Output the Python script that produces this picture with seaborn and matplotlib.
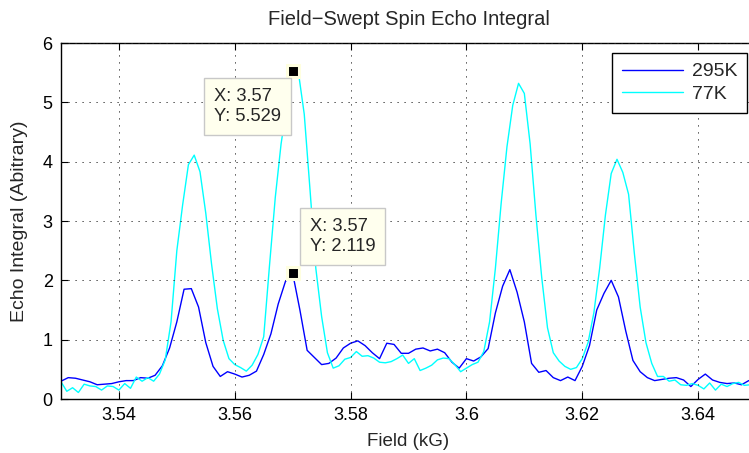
import numpy as np
import pandas as pd
import matplotlib
matplotlib.use("Agg")
import matplotlib.pyplot as plt
import seaborn as sns

# Field sweep grids (kG)
field_295 = np.round(np.arange(97) * 0.00125 + 3.53, 5)
field_77 = np.round(np.arange(121) * 0.001 + 3.53, 4)

# Echo integral, 295 K sweep
echo_295 = [
    0.30, 0.36, 0.35, 0.32, 0.29, 0.24, 0.25, 0.26, 0.29, 0.31,
    0.31, 0.36, 0.35, 0.40, 0.56, 0.86, 1.30, 1.85, 1.86, 1.55,
    0.95, 0.55, 0.38, 0.46, 0.42, 0.37, 0.40, 0.47, 0.75, 1.10,
    1.60, 1.98, 2.119, 1.50, 0.82, 0.70, 0.58, 0.60, 0.69, 0.86,
    0.94, 0.98, 0.90, 0.78, 0.68, 0.94, 0.92, 0.77, 0.77, 0.84,
    0.86, 0.81, 0.84, 0.78, 0.62, 0.52, 0.68, 0.64, 0.71, 0.85,
    1.45, 1.90, 2.18, 1.80, 1.30, 0.60, 0.45, 0.48, 0.36, 0.31,
    0.37, 0.31, 0.55, 0.90, 1.50, 1.78, 2.00, 1.72, 1.15, 0.65,
    0.46, 0.36, 0.31, 0.33, 0.35, 0.36, 0.32, 0.21, 0.33, 0.42,
    0.32, 0.28, 0.26, 0.27, 0.24, 0.31, 0.28,
]

# Echo integral, 77 K sweep
echo_77 = [
    0.29, 0.13, 0.19, 0.11, 0.25, 0.22, 0.21, 0.15, 0.22, 0.21,
    0.15, 0.26, 0.18, 0.37, 0.30, 0.36, 0.30, 0.42, 0.66, 1.30,
    2.50, 3.27, 3.95, 4.11, 3.83, 3.13, 2.27, 1.52, 0.99, 0.68,
    0.58, 0.53, 0.47, 0.57, 0.75, 1.05, 2.25, 3.40, 4.30, 4.95,
    5.529, 5.50, 4.80, 3.52, 2.20, 1.39, 0.78, 0.52, 0.56, 0.67,
    0.70, 0.80, 0.72, 0.73, 0.69, 0.62, 0.61, 0.63, 0.68, 0.74,
    0.60, 0.68, 0.48, 0.52, 0.57, 0.66, 0.69, 0.68, 0.58, 0.46,
    0.52, 0.58, 0.62, 0.80, 1.30, 2.20, 3.30, 4.25, 4.95, 5.32,
    5.15, 4.30, 3.10, 2.05, 1.20, 0.78, 0.64, 0.55, 0.50, 0.53,
    0.68, 0.95, 1.45, 2.20, 3.10, 3.80, 4.04, 3.82, 3.45, 2.45,
    1.55, 0.95, 0.60, 0.38, 0.38, 0.30, 0.32, 0.24, 0.23, 0.26,
    0.23, 0.17, 0.27, 0.15, 0.25, 0.21, 0.26, 0.28, 0.23, 0.24,
    0.22,
]

series_labels = ["295K", "77K"]
series_colors = ["#0000ff", "#00ffff"]

# Data cursor readouts: (field, echo integral)
tip_295 = (3.57, 2.119)
tip_77 = (3.57, 5.529)

x_ticks = [3.54, 3.56, 3.58, 3.60, 3.62, 3.64]
x_tick_labels = ["3.54", "3.56", "3.58", "3.6", "3.62", "3.64"]
y_ticks = [0, 1, 2, 3, 4, 5, 6]

df = pd.concat([
    pd.DataFrame({"Field": field_295, "Echo": echo_295, "Sample": series_labels[0]}),
    pd.DataFrame({"Field": field_77, "Echo": echo_77, "Sample": series_labels[1]}),
], ignore_index=True)

sns.set_theme(style="white")
plt.rcParams["font.family"] = ["Liberation Sans", "DejaVu Sans"]
plt.rcParams["axes.unicode_minus"] = True

fig = plt.figure(figsize=(7.49, 4.53), dpi=100)
ax = fig.add_axes([61 / 749, 54 / 453, 695 / 749, 356 / 453])

sns.lineplot(data=df, x="Field", y="Echo", hue="Sample",
             palette=dict(zip(series_labels, series_colors)),
             estimator=None, sort=False, linewidth=1.0, ax=ax, legend=False)

ax.set_xlim(3.53, 3.65)
ax.set_ylim(0, 6)
ax.set_xticks(x_ticks)
ax.set_xticklabels(x_tick_labels)
ax.set_yticks(y_ticks)
ax.tick_params(direction="in", length=5, width=0.8, colors="black",
               labelsize=13, top=True, right=True, bottom=True, left=True, pad=6)
for s in ax.spines.values():
    s.set_color("black")
    s.set_linewidth(1.0)
ax.grid(True, color="#222222", linestyle=(0, (1.2, 6)), linewidth=0.7)
ax.set_axisbelow(False)

ax.set_title("Field\u2212Swept Spin Echo Integral", fontsize=14.5, pad=13)
ax.set_xlabel("Field (kG)", fontsize=13.5, labelpad=6)
ax.set_ylabel("Echo Integral (Abitrary)", fontsize=14)
ax.yaxis.set_label_coords(-0.047, 0.5)

# Legend box in the upper-right corner
handles = [plt.Line2D([], [], color=c, lw=1.0) for c in series_colors]
leg = ax.legend(handles, series_labels, loc="upper right",
                bbox_to_anchor=(747 / 749, 1 - 53 / 453),
                bbox_transform=fig.transFigure, fontsize=14,
                handlelength=3.15, handletextpad=0.45, labelspacing=0.25,
                borderpad=0.5, borderaxespad=0, frameon=True,
                fancybox=False, framealpha=1)
leg.get_frame().set_edgecolor("black")
leg.get_frame().set_linewidth(1.0)

# Data cursor markers and readouts
tip_box = dict(boxstyle="square,pad=0.55", facecolor="#ffffee",
               edgecolor="#c8c8c8", linewidth=1.0)
for (tx, ty), off, ha, va in [(tip_77, (-12, -17), "right", "top"),
                              (tip_295, (17, 18), "left", "bottom")]:
    ax.plot([tx], [ty], marker="s", markersize=8.5, markerfacecolor="black",
            markeredgecolor="#ffffe0", markeredgewidth=2.2, zorder=6,
            linestyle="none")
    ax.annotate(f"X: {tx:g}\nY: {ty:g}", xy=(tx, ty), xytext=off,
                textcoords="offset pixels", ha=ha, va=va,
                multialignment="left", fontsize=13.25,
                linespacing=1.25, bbox=tip_box, zorder=7)

fig.savefig("out.png", dpi=100)
